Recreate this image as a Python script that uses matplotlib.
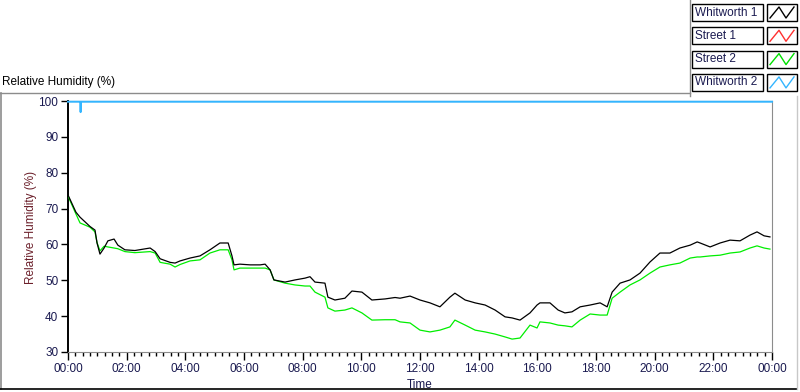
import matplotlib.pyplot as plt
from matplotlib.lines import Line2D
from matplotlib.patches import Rectangle
from matplotlib.ticker import MultipleLocator, FuncFormatter

plt.rcParams['font.family'] = ['Liberation Sans', 'DejaVu Sans']

# time of day in hours
hours = [0.00, 0.27, 0.41, 0.58, 0.75, 0.92, 0.99, 1.09, 1.23, 1.36, 1.57, 1.70, 1.94,
         2.28, 2.80, 2.97, 3.14, 3.48, 3.65, 3.82, 4.16, 4.50, 4.84, 5.18, 5.46, 5.59,
         5.66, 5.86, 6.21, 6.55, 6.72, 6.89, 7.02, 7.40, 7.74, 8.08, 8.25, 8.42, 8.76,
         8.86, 9.10, 9.44, 9.68, 10.02, 10.36, 10.81, 11.15, 11.32, 11.66, 12.00, 12.34,
         12.68, 13.02, 13.19, 13.54, 13.88, 14.22, 14.56, 14.90, 15.14, 15.41, 15.75,
         15.99, 16.09, 16.43, 16.71, 16.94, 17.18, 17.46, 17.80, 18.14, 18.38, 18.55,
         18.82, 19.16, 19.50, 19.84, 20.18, 20.52, 20.86, 21.21, 21.45, 21.55, 21.89,
         22.23, 22.57, 22.91, 23.25, 23.49, 23.73, 23.93]

whitworth1 = [73.8, 69.0, 67.6, 66.3, 65.0, 64.0, 60.4, 57.3, 59.0, 61.0, 61.5, 59.8, 58.5,
              58.3, 59.0, 58.0, 56.0, 55.0, 54.8, 55.4, 56.2, 56.8, 58.5, 60.4, 60.4, 56.8,
              54.3, 54.5, 54.3, 54.3, 54.5, 52.9, 50.1, 49.5, 50.1, 50.6, 51.0, 49.5, 49.2,
              45.3, 44.5, 45.0, 47.0, 46.7, 44.5, 44.8, 45.2, 45.0, 45.6, 44.5, 43.7,
              42.6, 45.3, 46.4, 44.5, 43.7, 43.1, 41.7, 39.8, 39.5, 38.9, 40.9,
              43.1, 43.7, 43.7, 41.7, 40.9, 41.2, 42.6, 43.1, 43.7, 42.6, 46.7,
              49.2, 50.1, 52.0, 55.1, 57.6, 57.6, 59.0, 59.8, 60.7, 60.4, 59.3,
              60.4, 61.2, 61.0, 62.6, 63.5, 62.4, 62.1]

street2 = [73.5, 68.5, 66.0, 65.4, 64.8, 63.5, 60.5, 58.2, 59.5, 59.3, 59.0, 58.8, 58.0,
           57.7, 58.0, 57.6, 55.0, 54.5, 53.7, 54.4, 55.4, 55.7, 57.6, 58.5, 58.5, 55.7,
           52.9, 53.4, 53.4, 53.4, 53.4, 52.9, 50.1, 49.2, 48.7, 48.4, 48.4, 46.7, 45.3,
           42.3, 41.4, 41.7, 42.3, 40.9, 38.9, 39.0, 39.0, 38.4, 38.1, 36.1, 35.6,
           36.1, 37.0, 38.9, 37.5, 36.1, 35.6, 35.0, 34.2, 33.6, 33.9, 37.5,
           36.7, 38.4, 38.1, 37.5, 37.3, 37.0, 38.9, 40.6, 40.3, 40.3, 45.0,
           46.7, 48.7, 50.1, 52.0, 53.7, 54.3, 54.8, 56.2, 56.5, 56.5, 56.8,
           57.0, 57.6, 57.9, 59.0, 59.6, 59.0, 58.7]

w2_hours = [0.0, 0.42, 0.43, 0.44, 24.0]
whitworth2 = [99.8, 99.8, 96.9, 99.8, 99.8]

legend_names = ['Whitworth 1', 'Street 1', 'Street 2', 'Whitworth 2']
legend_colors = ['#000000', '#ff3030', '#00e000', '#33b5ff']

fig = plt.figure(figsize=(8, 3.92), dpi=100)
W, H = 800.0, 392.0

def fx(px):
    return px / W

def fy(py):
    return 1 - py / H

ax = fig.add_axes([fx(68), fy(352), fx(772) - fx(68), fy(101) - fy(352)])
ax.plot(w2_hours, whitworth2, color='#33b5ff', lw=1.4, zorder=5, clip_on=False)
ax.plot(hours, street2, color='#00ee00', lw=0.9, zorder=3)
ax.plot(hours, whitworth1, color='#000000', lw=0.9, zorder=4)

ax.set_xlim(0, 24)
ax.set_ylim(30, 100)
ax.xaxis.set_major_locator(MultipleLocator(2))
ax.xaxis.set_minor_locator(MultipleLocator(0.25))
ax.yaxis.set_major_locator(MultipleLocator(10))
ax.xaxis.set_major_formatter(FuncFormatter(lambda v, p: '%02d:00' % (int(round(v)) % 24)))
ax.tick_params(axis='x', which='major', length=6, width=1, labelsize=8.5, colors='#000000',
               labelcolor='#1a1a50', pad=2)
ax.tick_params(axis='x', which='minor', length=3, width=1, colors='#000000')
ax.tick_params(axis='y', which='major', length=5, width=1, labelsize=8.5, colors='#000000',
               labelcolor='#1a1a50', pad=2)

for s in ['top', 'right', 'bottom']:
    ax.spines[s].set_color('#8c8c8c')
ax.spines['left'].set_color('#000000')
ax.spines['left'].set_linewidth(1.4)

ax.set_xlabel('Time', fontsize=8.5, color='#1a1a50', labelpad=3)
fig.text(fx(31), fy(227), 'Relative Humidity (%)', rotation=90, fontsize=8.5,
         color='#6b1f2a', ha='center', va='center')

# panel title and frame
fig.text(fx(2), fy(82), 'Relative Humidity (%)', fontsize=8.5, color='#000000',
         ha='left', va='center')
fig.add_artist(Line2D([fx(0), fx(690)], [fy(93), fy(93)], color='#8c8c8c', lw=1))
fig.add_artist(Line2D([fx(690), fx(690)], [fy(0), fy(96)], color='#8c8c8c', lw=1))
fig.add_artist(Line2D([fx(1), fx(1)], [fy(93), fy(389)], color='#8c8c8c', lw=1.2))
fig.add_artist(Line2D([fx(0), fx(797)], [fy(389), fy(389)], color='#000000', lw=1.2))
fig.add_artist(Line2D([fx(797), fx(797)], [fy(96), fy(389)], color='#c8c8c8', lw=1))

# legend boxes
for i, (name, col) in enumerate(zip(legend_names, legend_colors)):
    top = 4 + i * 23.3
    bot = top + 17
    fig.add_artist(Rectangle((fx(692), fy(bot)), fx(763) - fx(692), fy(top) - fy(bot),
                             transform=fig.transFigure, fill=False, ec='#000000', lw=1))
    fig.add_artist(Rectangle((fx(767), fy(bot)), fx(797) - fx(767), fy(top) - fy(bot),
                             transform=fig.transFigure, fill=False, ec='#000000', lw=1))
    fig.text(fx(695), fy((top + bot) / 2), name, fontsize=8.5, color='#1a1a50',
             ha='left', va='center')
    zx = [770, 779, 786, 794]
    zy = [bot - 3, top + 3, bot - 3, top + 3]
    fig.add_artist(Line2D([fx(v) for v in zx], [fy(v) for v in zy], color=col, lw=1))

fig.savefig('out.png', dpi=100, facecolor='white')
